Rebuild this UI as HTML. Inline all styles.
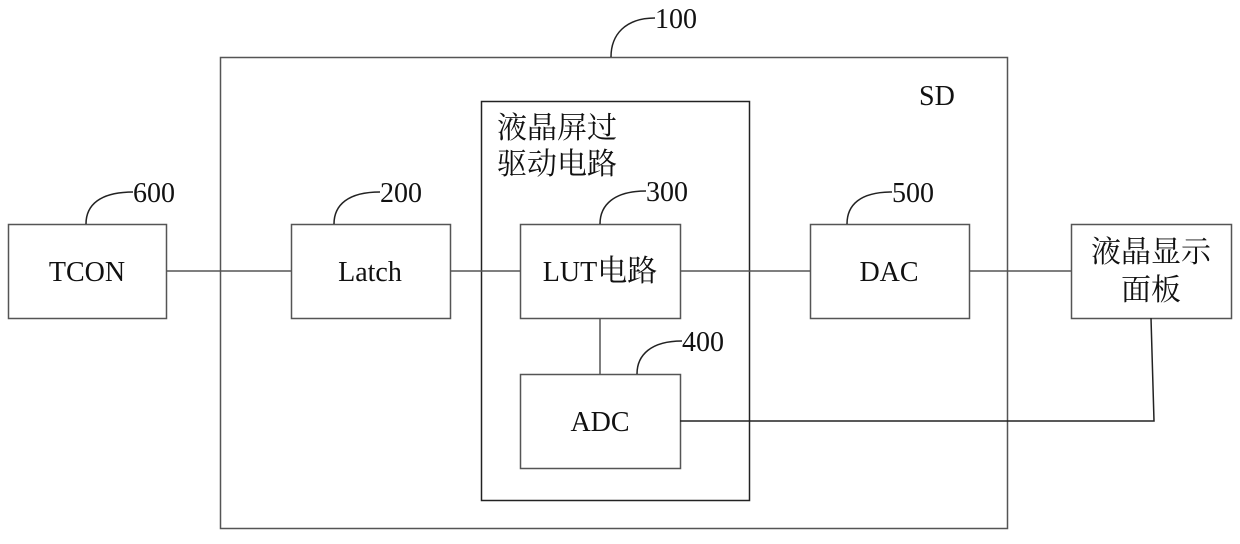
<!DOCTYPE html>
<html><head><meta charset="utf-8"><style>
body{margin:0;background:#fff}
svg text{font-family:"Liberation Serif","Noto Serif CJK SC",serif;fill:#111}
</style></head><body>
<svg width="1240" height="539" viewBox="0 0 1240 539" xmlns="http://www.w3.org/2000/svg">
<g fill="none" stroke="#555" stroke-width="1.5">
<rect x="220.5" y="57.5" width="787" height="471"/>
<rect x="481.5" y="101.5" width="268" height="399" stroke="#222"/>
<rect x="8.5" y="224.5" width="158" height="94"/>
<rect x="291.5" y="224.5" width="159" height="94"/>
<rect x="520.5" y="224.5" width="160" height="94"/>
<rect x="520.5" y="374.5" width="160" height="94"/>
<rect x="810.5" y="224.5" width="159" height="94"/>
<rect x="1071.5" y="224.5" width="160" height="94"/>
<path d="M166 271H291M450 271H520M680 271H810M969 271H1071M600 318V374" />
<path d="M680 421H1154L1151 318" stroke="#222"/>
</g>
<g fill="none" stroke="#222" stroke-width="1.5">
<path d="M611 57C611 35 625 18 655 18"/>
<path d="M86 224C86 205 100 192 133 192"/>
<path d="M334 224C334 205 348 192 380 192"/>
<path d="M600 224C600 205 614 191 646 191"/>
<path d="M637 374C637 355 651 341 682 341"/>
<path d="M847 224C847 205 860 192 892 192"/>
</g>
<g font-size="28">
<text x="655" y="28">100</text>
<text x="133" y="202">600</text>
<text x="380" y="202">200</text>
<text x="646" y="201">300</text>
<text x="682" y="351">400</text>
<text x="892" y="202">500</text>
<text x="919" y="105">SD</text>
<text x="87" y="281" text-anchor="middle">TCON</text>
<text x="370" y="281" text-anchor="middle">Latch</text>
<text x="600" y="281" text-anchor="middle">LUT<tspan font-size="30">电路</tspan></text>
<text x="600" y="431" text-anchor="middle">ADC</text>
<text x="889" y="281" text-anchor="middle">DAC</text>
</g>
<g font-size="30">
<text x="1151" y="262" text-anchor="middle">液晶显示</text>
<text x="1151" y="300" text-anchor="middle">面板</text>
<text x="497" y="138">液晶屏过</text>
<text x="497" y="174">驱动电路</text>
</g>
</svg>
</body></html>
